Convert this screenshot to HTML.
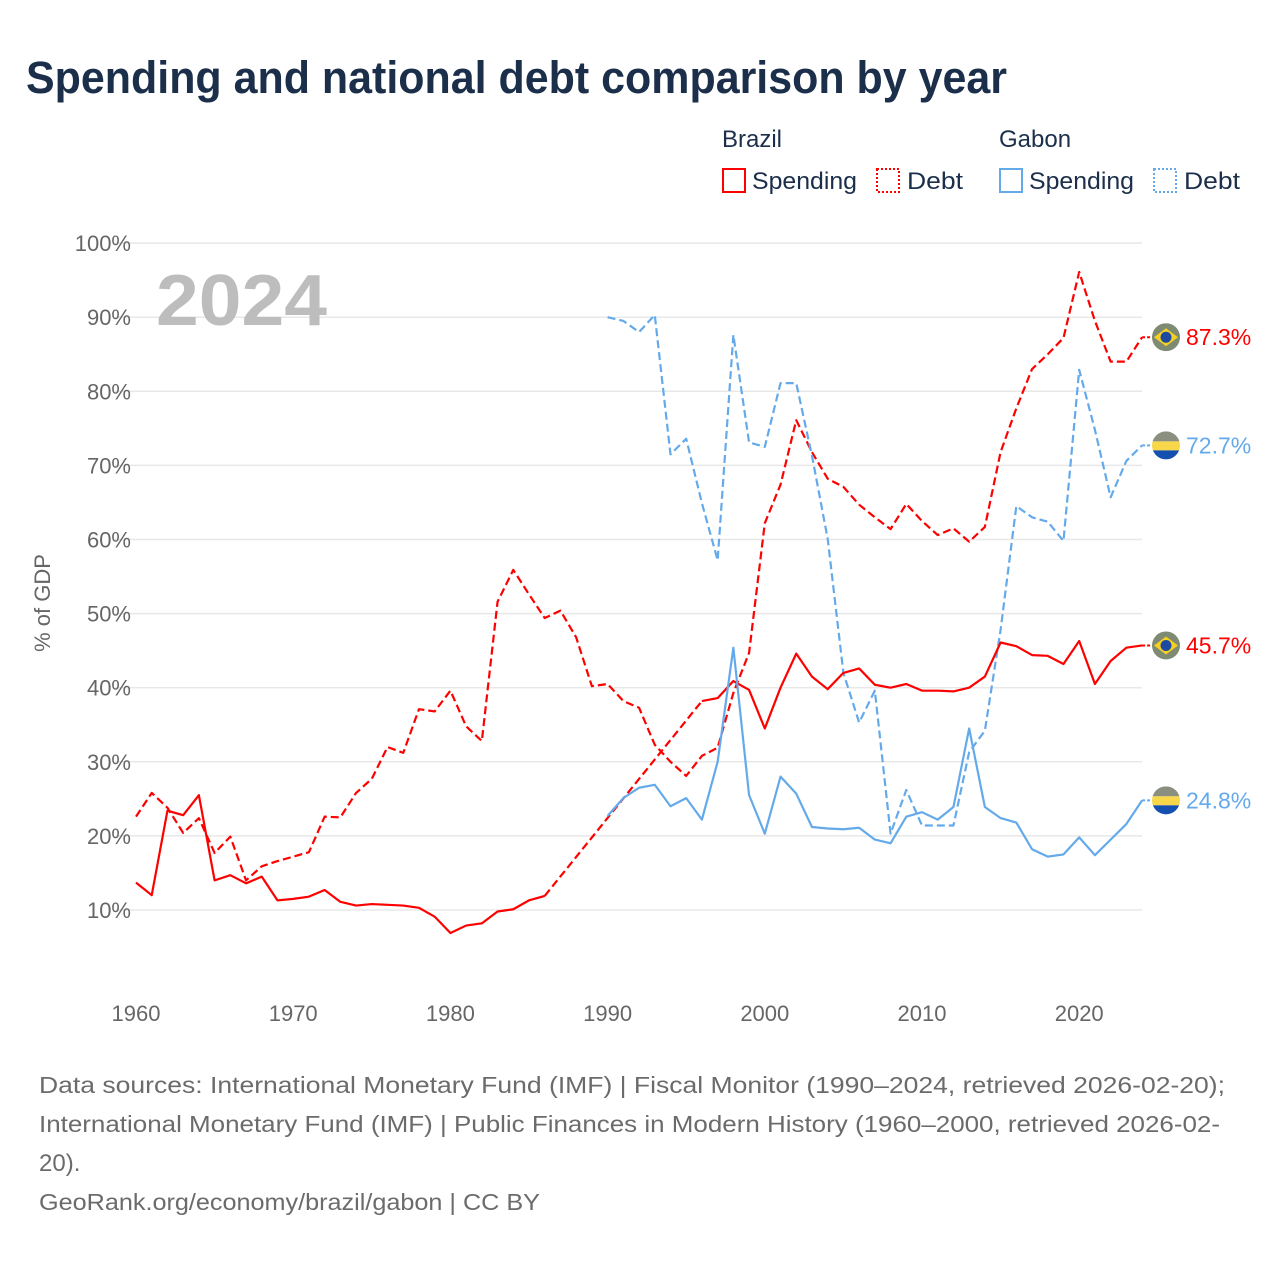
<!DOCTYPE html>
<html><head><meta charset="utf-8">
<style>
body{margin:0;background:#fff;}
svg{display:block;font-family:"Liberation Sans",sans-serif;}
</style></head>
<body>
<svg id="chart" width="1280" height="1280" viewBox="0 0 1280 1280">
<rect width="1280" height="1280" fill="#fff"/>
<text x="26" y="93" font-size="45" font-weight="bold" fill="#1b2f4b" textLength="981" lengthAdjust="spacingAndGlyphs">Spending and national debt comparison by year</text>
<g font-size="24" fill="#1b2f4b">
  <text x="722" y="147">Brazil</text>
  <text x="999" y="147">Gabon</text>
  <g><rect x="723" y="169" width="22" height="23" fill="none" stroke="#ff0000" stroke-width="2"/><text x="752" y="189" textLength="105" lengthAdjust="spacingAndGlyphs">Spending</text></g>
  <g><rect x="877" y="169" width="22" height="23" fill="none" stroke="#ff0000" stroke-width="2" stroke-dasharray="2,2"/><text x="907" y="189" textLength="56" lengthAdjust="spacingAndGlyphs">Debt</text></g>
  <g><rect x="1000" y="169" width="22" height="23" fill="none" stroke="#64aaeb" stroke-width="2"/><text x="1029" y="189" textLength="105" lengthAdjust="spacingAndGlyphs">Spending</text></g>
  <g><rect x="1154" y="169" width="22" height="23" fill="none" stroke="#64aaeb" stroke-width="2" stroke-dasharray="2,2"/><text x="1184" y="189" textLength="56" lengthAdjust="spacingAndGlyphs">Debt</text></g>
</g>
<g id="grid"></g>
<text x="156" y="325" font-size="72" font-weight="bold" fill="#bdbdbd" textLength="171" lengthAdjust="spacingAndGlyphs">2024</text>
<text transform="translate(50,603) rotate(-90)" text-anchor="middle" font-size="22" fill="#666">% of GDP</text>
<g id="series"></g>
<g font-size="23" fill="#6b6b6b">
  <text x="39" y="1093" textLength="1186" lengthAdjust="spacingAndGlyphs">Data sources: International Monetary Fund (IMF) | Fiscal Monitor (1990–2024, retrieved 2026-02-20);</text>
  <text x="39" y="1132" textLength="1181" lengthAdjust="spacingAndGlyphs">International Monetary Fund (IMF) | Public Finances in Modern History (1960–2000, retrieved 2026-02-</text>
  <text x="39" y="1171" font-size="24">20).</text>
  <text x="39" y="1210" textLength="501" lengthAdjust="spacingAndGlyphs">GeoRank.org/economy/brazil/gabon | CC BY</text>
</g>
</svg>
<script>
const years = [];
for (let y = 1960; y <= 2024; y++) years.push(y);
const yTicks = [10,20,30,40,50,60,70,80,90,100];
const xTicks = [1960,1970,1980,1990,2000,2010,2020];
const brazilSpending = [13.7,12.0,23.4,22.8,25.5,14.0,14.7,13.6,14.5,11.3,11.5,11.8,12.7,11.1,10.6,10.8,10.7,10.6,10.3,9.1,6.9,7.9,8.2,9.8,10.1,11.3,11.9,
 null,null,null,null,null,null,null,null,null,
 38.2,38.6,40.9,39.7,34.5,40.0,44.6,41.5,39.8,42.0,42.6,40.4,40.0,40.5,39.6,39.6,39.5,40.0,41.5,46.1,45.6,44.4,44.3,43.2,46.3,40.5,43.6,45.4,45.7];
const brazilDebt = [22.6,25.8,23.8,20.4,22.4,17.7,19.9,14.0,15.9,16.6,17.2,17.8,22.6,22.5,25.8,27.7,32.0,31.2,37.1,36.8,39.6,34.8,32.8,51.6,55.9,52.6,49.4,50.4,46.8,40.2,
 40.5,38.2,37.3,32.3,30.0,28.1,30.8,31.9,39.3,44.7,62.2,67.4,76.1,71.8,68.2,67.1,64.7,63.0,61.4,64.8,62.5,60.6,61.5,59.7,61.7,71.8,77.7,83.0,85.0,87.2,96.1,89.5,84.0,84.0,87.3];
const gabonSpending = [null,null,null,null,null,null,null,null,null,null,null,null,null,null,null,null,null,null,null,null,null,null,null,null,null,null,null,null,null,null,
 22.7,25.1,26.5,26.9,24.0,25.1,22.2,30.0,45.4,25.5,20.3,28.0,25.7,21.2,21.0,20.9,21.1,19.5,19.0,22.6,23.2,22.2,23.9,34.5,23.9,22.4,21.8,18.2,17.2,17.5,19.8,17.4,19.5,21.6,24.8];
const gabonDebt = [null,null,null,null,null,null,null,null,null,null,null,null,null,null,null,null,null,null,null,null,null,null,null,null,null,null,null,null,null,null,
 90.0,89.5,88.0,90.3,71.5,73.6,64.9,57.2,87.6,73.1,72.5,81.1,81.1,71.3,60.1,42.0,35.3,39.6,20.3,26.2,21.4,21.4,21.4,31.3,34.2,47.8,64.5,63.0,62.4,59.8,82.9,74.8,65.7,70.6,72.7];

const NS = "http://www.w3.org/2000/svg";
const X0 = 136, YEAR_W = 15.72, Y10 = 910, PER = 7.41;
function xs(yr){ return X0 + (yr - 1960) * YEAR_W; }
function ys(v){ return Y10 - (v - 10) * PER; }
function mk(tag, attrs, parent){ const e = document.createElementNS(NS, tag); for (const k in attrs) e.setAttribute(k, attrs[k]); parent.appendChild(e); return e; }

const grid = document.getElementById('grid');
yTicks.forEach(t => {
  const l = mk('line', {x1:115, x2:1142, y1:ys(t), y2:ys(t), stroke:'#e8e8e8', 'stroke-width':1.5}, grid);
  
  
  const tx = mk('text', {x:131, y:ys(t)+8, 'text-anchor':'end', 'font-size':22, fill:'#666'}, grid);
  tx.textContent = t + '%';
  
  
});
xTicks.forEach(t => {
  const tx = mk('text', {x:xs(t), y:1021, 'text-anchor':'middle', 'font-size':22, fill:'#666'}, grid);
  tx.textContent = t;
  
  
});

const series = document.getElementById('series');
function draw(vals, color, dashed, name){
  const g = mk('g', {}, series);
  
  
  let seg = [], last = null;
  const segs = [], bridges = [];
  vals.forEach((v, i) => {
    if (v == null) { if (seg.length) { segs.push(seg); seg = []; } return; }
    const p = [xs(years[i]), ys(v)];
    if (!seg.length && last) bridges.push([last, p]);
    seg.push(p); last = p;
  });
  if (seg.length) segs.push(seg);
  segs.forEach(s => {
    const pl = mk('polyline', {points:s.map(p=>p.join(',')).join(' '), fill:'none', stroke:color, 'stroke-width':2.2, 'stroke-linejoin':'round', 'stroke-dasharray': dashed ? '8,4' : 'none'}, g);
    
    
  });
  bridges.forEach(b => {
    const bl = mk('polyline', {points:b.map(p=>p.join(',')).join(' '), fill:'none', stroke:color, 'stroke-width':2.2, 'stroke-dasharray':'8,4'}, g);
    
    
  });
  return last;
}
const pBD = draw(brazilDebt, '#ff0000', true, 'brazil-debt-series');
const pGD = draw(gabonDebt, '#64aaeb', true, 'gabon-debt-series');
const pBS = draw(brazilSpending, '#ff0000', false, 'brazil-spending-series');
const pGS = draw(gabonSpending, '#64aaeb', false, 'gabon-spending-series');

function flag(p, country, color, value, name){
  const g = mk('g', {}, series);
  
  
  const cx = 1166, cy = p[1];
  mk('line', {x1:p[0], x2:cx, y1:cy, y2:cy, stroke:color, 'stroke-width':2, 'stroke-dasharray':'3,2'}, g);
  const id = 'clip' + name;
  const cp = mk('clipPath', {id:id}, g);
  mk('circle', {cx:cx, cy:cy, r:14}, cp);
  const f = mk('g', {'clip-path':'url(#'+id+')'}, g);
  if (country === 'br') {
    mk('rect', {x:cx-14, y:cy-14, width:28, height:28, fill:'#7f8a72'}, f);
    mk('polygon', {points:`${cx-12},${cy} ${cx},${cy-9} ${cx+12},${cy} ${cx},${cy+9}`, fill:'#f5d020'}, f);
    mk('circle', {cx:cx, cy:cy, r:5.5, fill:'#1d4aa0'}, f);
  } else {
    mk('rect', {x:cx-14, y:cy-14, width:28, height:10, fill:'#8a8f80'}, f);
    mk('rect', {x:cx-14, y:cy-4, width:28, height:9, fill:'#f8d84a'}, f);
    mk('rect', {x:cx-14, y:cy+5, width:28, height:10, fill:'#1450b0'}, f);
  }
  const t = mk('text', {x:1186, y:cy+8, 'font-size':23, fill:color}, g);
  t.textContent = value.toFixed(1) + '%';
  
  
}
flag(pBD, 'br', '#ff0000', brazilDebt[brazilDebt.length-1], 'brazil-debt-end-label');
flag(pGD, 'ga', '#64aaeb', gabonDebt[gabonDebt.length-1], 'gabon-debt-end-label');
flag(pBS, 'br', '#ff0000', brazilSpending[brazilSpending.length-1], 'brazil-spending-end-label');
flag(pGS, 'ga', '#64aaeb', gabonSpending[gabonSpending.length-1], 'gabon-spending-end-label');
</script>
</body></html>
